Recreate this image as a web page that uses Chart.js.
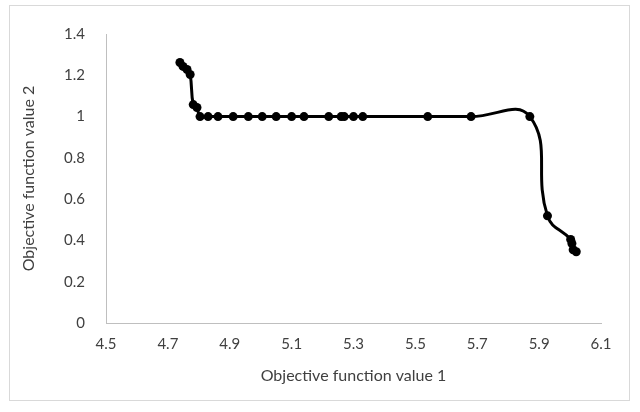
<!DOCTYPE html>
<html>
<head>
<meta charset="utf-8">
<script src="https://cdn.jsdelivr.net/npm/chart.js@4.4.1/dist/chart.umd.min.js"></script>
<style>
  html, body { margin: 0; padding: 0; background: #fff; }
  #wrap { width: 640px; height: 412px; position: relative; }
</style>
</head>
<body>
<div id="wrap"><canvas id="paretoChart" width="640" height="412"></canvas></div>
<script>
// objective values, in the order the curve passes them
const objective1 = [4.739, 4.749, 4.762, 4.772, 4.782, 4.794, 4.804, 4.83, 4.862, 4.911, 4.96, 5.005, 5.05, 5.10, 5.14, 5.22, 5.26, 5.27, 5.30, 5.33, 5.54, 5.68, 5.87, 5.927, 6.002, 6.006, 6.01, 6.02];
const objective2 = [1.262, 1.243, 1.228, 1.204, 1.058, 1.044, 1.0, 1.0, 1.0, 1.0, 1.0, 1.0, 1.0, 1.0, 1.0, 1.0, 1.0, 1.0, 1.0, 1.0, 1.0, 1.0, 1.0, 0.519, 0.405, 0.385, 0.355, 0.345];

const xTickLabels = ['4.5', '4.7', '4.9', '5.1', '5.3', '5.5', '5.7', '5.9', '6.1'];
const yTickLabels = ['0', '0.2', '0.4', '0.6', '0.8', '1', '1.2', '1.4'];

const points = objective1.map((x, i) => ({ x: x, y: objective2[i] }));

const textColor = '#404040';
const axisColor = '#bfbfbf';
const fontFamily = 'Lato, "Liberation Sans", sans-serif';

// light grey frame round the whole chart, like the office chart border
const frame = {
    id: 'frame',
    beforeDraw(chart) {
        const c = chart.ctx;
        c.save();
        c.fillStyle = '#ffffff';
        c.fillRect(0, 0, chart.width, chart.height);
        c.strokeStyle = '#d9d9d9';
        c.lineWidth = 1;
        c.strokeRect(9.5, 5.5, 620, 395);
        c.restore();
    }
};

const ctx = document.getElementById('paretoChart').getContext('2d');
const paretoChart = new Chart(ctx, {
    type: 'scatter',
    data: {
        datasets: [{
            label: 'Pareto front',
            data: points,
            showLine: true,
            tension: 0.45,
            borderColor: '#000000',
            backgroundColor: '#000000',
            borderWidth: 3,
            pointRadius: 4.5,
            pointBorderWidth: 0,
            pointBackgroundColor: '#000000'
        }]
    },
    options: {
        responsive: false,
        animation: false,
        layout: { padding: { left: 16, right: 39, top: 34, bottom: 27 } },
        plugins: {
            legend: { display: false },
            tooltip: { enabled: false }
        },
        scales: {
            x: {
                type: 'linear',
                min: 4.5,
                max: 6.1,
                afterBuildTicks(scale) {
                    scale.ticks = xTickLabels.map(v => ({ value: parseFloat(v) }));
                },
                afterFit(scale) { scale.height = 62; },
                ticks: {
                    callback: (value, i) => xTickLabels[i],
                    color: textColor,
                    font: { family: fontFamily, size: 15 },
                    padding: 12,
                    maxRotation: 0
                },
                grid: { display: false, drawTicks: false },
                border: { display: true, color: axisColor, width: 1 },
                title: {
                    display: true,
                    text: 'Objective function value 1',
                    color: textColor,
                    font: { family: fontFamily, size: 16 },
                    padding: { top: 9, bottom: 0 }
                }
            },
            y: {
                type: 'linear',
                min: 0,
                max: 1.4,
                afterBuildTicks(scale) {
                    scale.ticks = yTickLabels.map(v => ({ value: parseFloat(v) }));
                },
                afterFit(scale) { scale.width = 90; },
                ticks: {
                    callback: (value, i) => yTickLabels[i],
                    color: textColor,
                    font: { family: fontFamily, size: 15 },
                    padding: 21
                },
                grid: { display: false, drawTicks: false },
                border: { display: true, color: axisColor, width: 1 },
                title: {
                    display: true,
                    text: 'Objective function value 2',
                    color: textColor,
                    font: { family: fontFamily, size: 16 },
                    padding: { top: 3, bottom: 0 }
                }
            }
        }
    },
    plugins: [frame]
});
</script>
</body>
</html>
